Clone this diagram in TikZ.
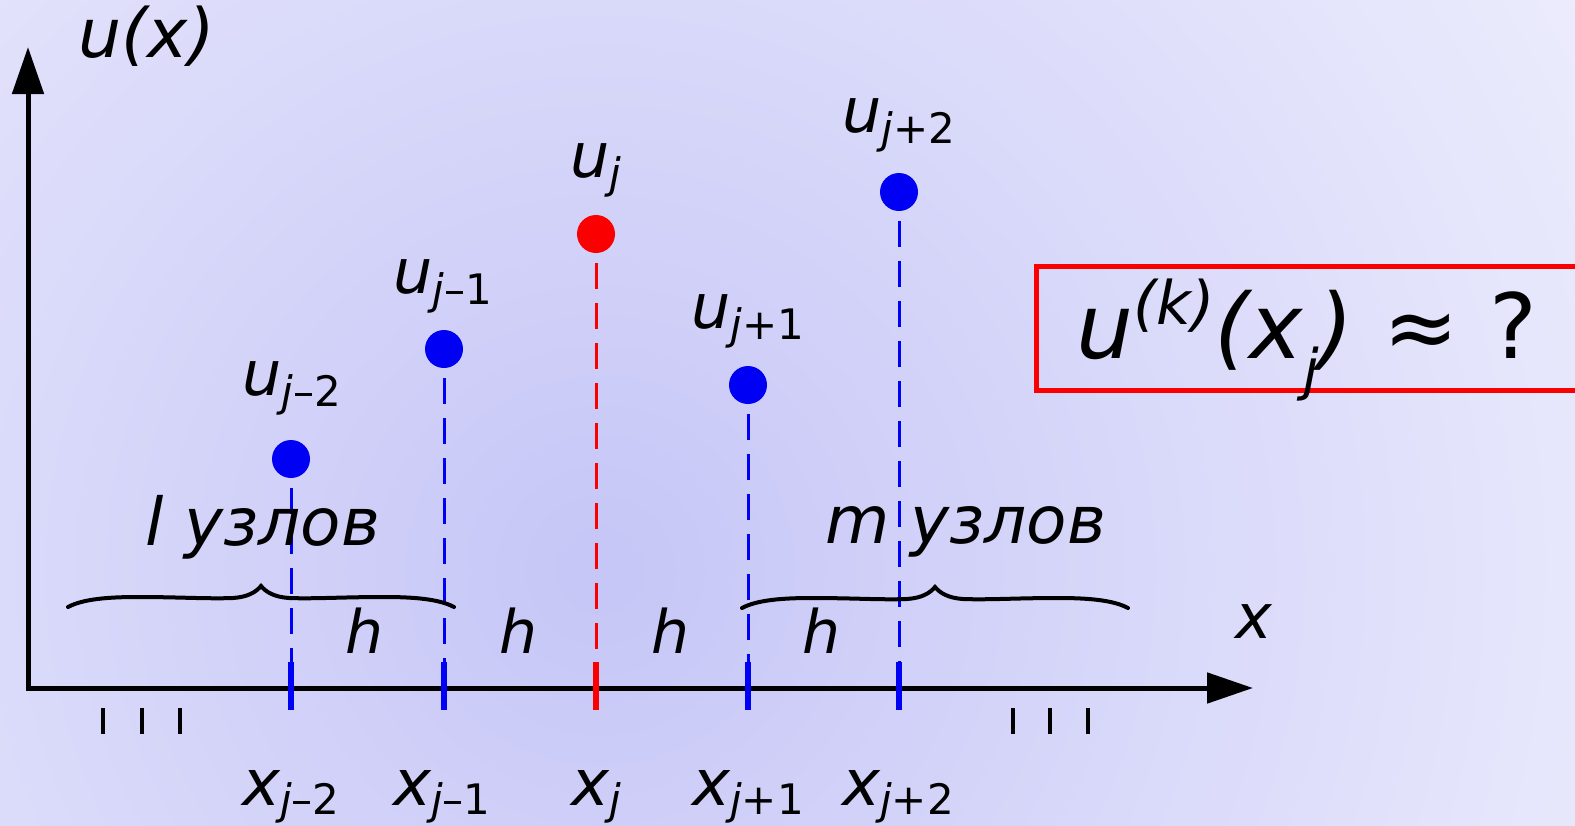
\documentclass[tikz,border=0pt]{standalone}
\usepackage{fontspec}
\setmainfont{DejaVu Sans}
\usetikzlibrary{arrows.meta}
\definecolor{bgin}{RGB}{198,198,247}
\definecolor{bgout}{RGB}{243,243,254}
\definecolor{ublue}{RGB}{0,0,245}
\definecolor{ured}{RGB}{250,0,0}
\newcommand\fs[1]{\fontsize{#1}{#1}\selectfont}
\newcommand\ulab[1]{\fs{62}\itshape u\raisebox{-11pt}{\fs{42}\itshape j\upshape #1}}
\newcommand\xlab[1]{\fs{64}\itshape x\raisebox{-9pt}{\fs{42}\itshape j\upshape #1}}
\begin{document}
\begin{tikzpicture}[x=1pt,y=-1pt,
  axis/.style={line width=5pt, line join=miter},
  dot/.style={circle, inner sep=0pt, minimum size=38pt, draw=none},
  dashline/.style={line width=3pt, dash pattern=on 26pt off 14pt, dash phase=30pt},
  tickmark/.style={line width=5.5pt},
  smalltick/.style={line width=4pt, draw=black},
  lbl/.style={inner sep=0pt, anchor=base},
  hlab/.style={inner sep=0pt, anchor=base, font=\fs{60}\itshape},
  wordlab/.style={inner sep=0pt, anchor=base west, font=\fs{66}\itshape},
  mybrace/.pic={\draw[line width=4pt, line cap=round]
    (0,0) .. controls (15,-8) and (40,-10) .. (70,-10)
    .. controls (110,-10) and (140,-8) .. (165,-9)
    .. controls (180,-10) and (188,-15) .. (193,-21)
    .. controls (198,-15) and (206,-10) .. (221,-9)
    .. controls (246,-8) and (276,-10) .. (316,-10)
    .. controls (346,-10) and (371,-8) .. (386,0);}]
\useasboundingbox (0,0) rectangle (1575,825);
\begin{scope}
  \clip (0,0) rectangle (1575,825);
  \shade[inner color=bgin, outer color=bgout] (600,570) circle[radius=1350pt];
\end{scope}

% axes
\coordinate (O) at (28,688);
\coordinate (Ytip) at (28,47);
\coordinate (Xtip) at (1253,688);
\draw[axis, {Triangle[length=47pt,width=31pt]}-{Triangle[length=46pt,width=30pt]}] (Ytip) -- (O) -- (Xtip);
\node[inner sep=0pt, anchor=base west] (ulabel) at (78,57) {\fs{68}\itshape u(x)};
\node[inner sep=0pt, anchor=base west] (xlabel) at (1235,638) {\fs{62}\itshape x};

% nodes, dashed lines, ticks
\foreach \n/\x/\y/\c in {a/291/459/ublue, b/444/349/ublue, c/596/234/ured, d/748/385/ublue, e/899/192/ublue} {
  \node[dot, fill=\c] (p\n) at (\x,\y) {};
  \coordinate (t\n) at (\x,662);
  \coordinate (b\n) at (\x,710);
  \draw[dashline, draw=\c] (p\n.south) -- (t\n);
  \draw[tickmark, draw=\c] (t\n) -- (b\n);
}

% value labels
\node[lbl] (la) at (292,395) {\ulab{–2}};
\node[lbl] (lb) at (443,293) {\ulab{–1}};
\node[lbl] (lc) at (596,177) {\ulab{}};
\node[lbl] (ld) at (748,328) {\ulab{+1}};
\node[lbl] (le) at (899,132) {\ulab{+2}};

% abscissa labels
\node[lbl] (xa) at (291,805) {\xlab{–2}};
\node[lbl] (xb) at (442,805) {\xlab{–1}};
\node[lbl] (xc) at (596,805) {\xlab{}};
\node[lbl] (xd) at (748,805) {\xlab{+1}};
\node[lbl] (xe) at (898,805) {\xlab{+2}};

% h labels
\node[hlab] (h1) at (365,653) {h};
\node[hlab] (h2) at (519,653) {h};
\node[hlab] (h3) at (671,653) {h};
\node[hlab] (h4) at (822,653) {h};

% small ticks
\foreach \n/\x in {1/103, 2/142, 3/180, 4/1013, 5/1050, 6/1088} {
  \coordinate (s\n a) at (\x,708);
  \coordinate (s\n b) at (\x,734);
  \draw[smalltick] (s\n a) -- (s\n b);
}

% braces
\pic (bl) at (68,607) {mybrace};
\pic (br) at (742,608) {mybrace};
\node[wordlab] (lw) at (145,545) {l узлов};
\node[wordlab] (mw) at (825,543) {m узлов};

% question box
\node[draw=ured, line width=5pt, minimum width=600pt, minimum height=124pt, anchor=west, inner sep=0pt] (box) at (1034,328) {};
\node[inner sep=0pt, anchor=base west] (q) at (1076,358)
  {\fs{90}\itshape u\raisebox{34pt}{\fs{60}(k)}(x\raisebox{-31pt}{\fs{56}j})\hspace{30pt}\upshape≈\hspace{30pt}?};
\end{tikzpicture}
\end{document}
